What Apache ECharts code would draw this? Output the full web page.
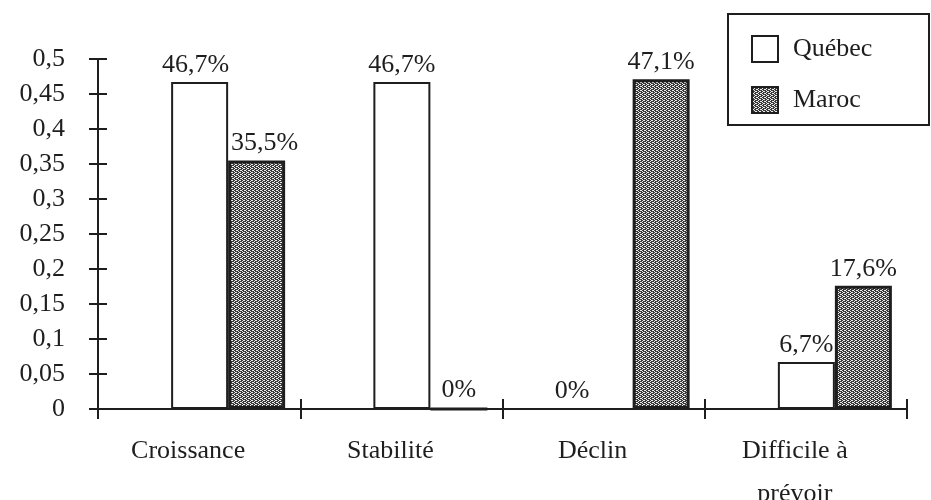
<!DOCTYPE html>
<html>
<head>
<meta charset="utf-8">
<script src="https://cdn.jsdelivr.net/npm/echarts@6/dist/echarts.min.js"></script>
<style>
  html, body { margin: 0; padding: 0; background: #fff; }
  #chart { width: 931px; height: 500px; }
</style>
</head>
<body>
<div id="chart"></div>
<script>
// Perspectives d'évolution : Québec vs Maroc
const categories = ['Croissance', 'Stabilité', 'Déclin', 'Difficile à\nprévoir'];
const quebecValues = [0.467, 0.467, 0, 0.067];
const marocValues = [0.355, 0, 0.471, 0.176];
const yTicks = { min: 0, max: 0.5, step: 0.05 };

const FONT = '"Liberation Serif", "Times New Roman", serif';
const FS = 26;
const INK = '#1e1e1e';

// fine dithered fill for the Maroc bars
function ditherPattern() {
  const c = document.createElement('canvas');
  c.width = 4; c.height = 4;
  const g = c.getContext('2d');
  g.fillStyle = '#3a3a3a';
  g.fillRect(0, 0, 4, 4);
  g.fillStyle = '#ececec';
  [[0, 0], [2, 1], [0, 2], [2, 3], [3, 0], [1, 2]].forEach(function (p) {
    g.fillRect(p[0], p[1], 1, 1);
  });
  return { image: c, repeat: 'repeat' };
}

function pct(v) {
  if (v === 0) return '0%';
  return (v * 100).toFixed(1).replace('.', ',') + '%';
}

const labelStyle = {
  show: true,
  position: 'top',
  distance: 4,
  fontFamily: FONT,
  fontSize: FS,
  color: INK,
  formatter: function (p) { return pct(p.value); }
};

// per-point label nudges (Déclin / Québec zero label sits left of its slot)
function buildData(values, shifts) {
  return values.map(function (v, i) {
    if (shifts[i]) return { value: v, label: { offset: shifts[i] } };
    return v;
  });
}

const chart = echarts.init(document.getElementById('chart'), null, { renderer: 'canvas' });

const gridBase = { top: 59, bottom: 91, outerBoundsMode: 'none', containLabel: false };

chart.setOption({
  animation: false,
  backgroundColor: '#fff',
  grid: [
    Object.assign({ left: 98, right: 24 }, gridBase),
    Object.assign({ left: 127, right: -5 }, gridBase)
  ],
  xAxis: [
    {
      gridIndex: 0, type: 'category', data: categories, position: 'bottom',
      axisLine: { lineStyle: { color: INK, width: 2 } },
      axisTick: { show: true, inside: false, length: 10, lineStyle: { color: INK, width: 2 } },
      axisLabel: {
        interval: 0, margin: 21, fontFamily: FONT, fontSize: FS, color: INK,
        lineHeight: 43, padding: [0, 22, 0, 0]
      },
      splitLine: { show: false }
    },
    {
      gridIndex: 0, type: 'category', data: categories, position: 'bottom',
      axisLine: { show: false },
      axisTick: { show: true, inside: true, length: 10, lineStyle: { color: INK, width: 2 } },
      axisLabel: { show: false },
      splitLine: { show: false }
    },
    { gridIndex: 1, type: 'category', data: categories, show: false }
  ],
  yAxis: [
    {
      gridIndex: 0, type: 'value', position: 'left',
      min: yTicks.min, max: yTicks.max, interval: yTicks.step,
      axisLine: { show: true, lineStyle: { color: INK, width: 2 } },
      axisTick: { show: true, inside: false, length: 9, lineStyle: { color: INK, width: 2 } },
      axisLabel: {
        margin: 33, fontFamily: FONT, fontSize: FS, color: INK,
        formatter: function (v) { return String(+v.toFixed(2)).replace('.', ','); }
      },
      splitLine: { show: false }
    },
    {
      gridIndex: 0, type: 'value', position: 'left',
      min: yTicks.min, max: yTicks.max, interval: yTicks.step,
      axisLine: { show: false },
      axisTick: { show: true, inside: true, length: 9, lineStyle: { color: INK, width: 2 } },
      axisLabel: { show: false },
      splitLine: { show: false }
    },
    { gridIndex: 1, type: 'value', min: yTicks.min, max: yTicks.max, show: false }
  ],
  legend: {
    orient: 'vertical',
    left: 746, top: 30,
    itemWidth: 26, itemHeight: 26, itemGap: 23,
    icon: 'rect',
    data: ['Québec', 'Maroc'],
    textStyle: { fontFamily: FONT, fontSize: FS, color: INK, padding: [0, 0, 0, 10] }
  },
  graphic: [{
    type: 'rect',
    shape: { x: 728, y: 14, width: 201, height: 111 },
    style: { fill: 'none', stroke: INK, lineWidth: 2 },
    silent: true
  }],
  series: [
    {
      name: 'Québec', type: 'bar', xAxisIndex: 2, yAxisIndex: 2,
      barWidth: 57, barGap: '0%',
      data: buildData(quebecValues, { 0: [-4, 0], 2: [-32, 0] }),
      itemStyle: { color: '#ffffff', borderColor: INK, borderWidth: 2 },
      label: labelStyle
    },
    {
      name: 'Maroc', type: 'bar', xAxisIndex: 2, yAxisIndex: 2,
      barWidth: 57, barGap: '0%',
      data: buildData(marocValues, { 0: [8, 0] }),
      itemStyle: { color: ditherPattern(), borderColor: INK, borderWidth: 3 },
      label: labelStyle
    }
  ]
});
</script>
</body>
</html>
